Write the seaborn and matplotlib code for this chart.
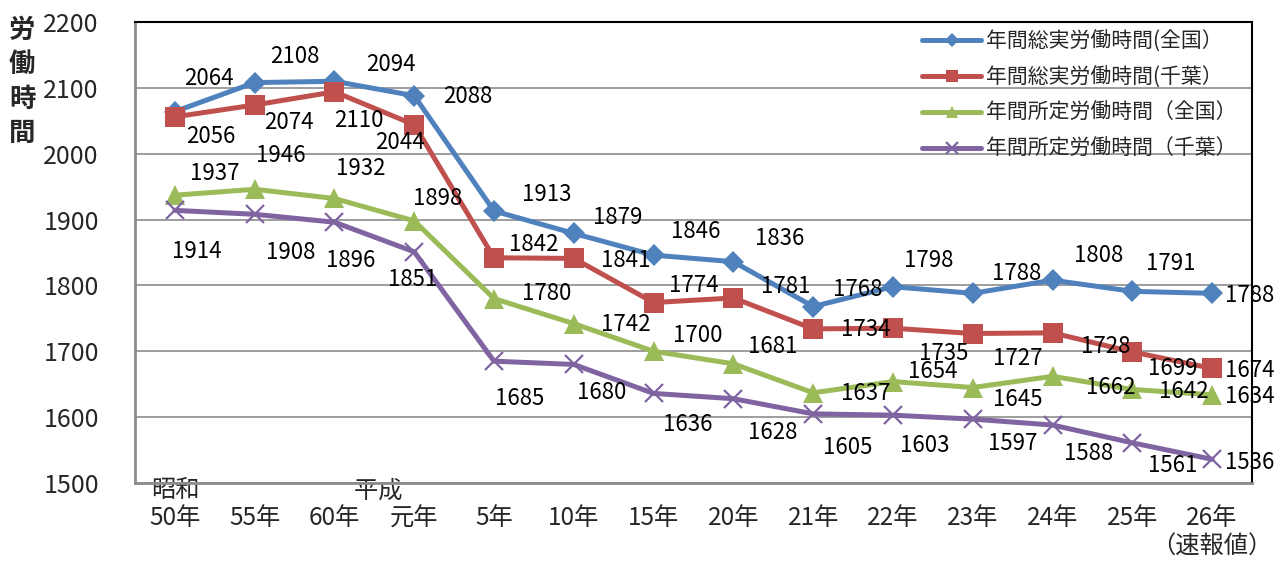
import numpy as np
import pandas as pd
import matplotlib
matplotlib.use("Agg")
import matplotlib.pyplot as plt
import seaborn as sns

# ---- data ----
categories = ["昭和\n50年", "\n55年", "\n60年", "平成\u3000\u3000\u3000\n元年", "\n5年", "\n10年", "\n15年",
              "\n20年", "\n21年", "\n22年", "\n23年", "\n24年", "\n25年", "\n26年\n（速報値）"]
series_names = ["年間総実労働時間(全国）", "年間総実労働時間(千葉）",
                "年間所定労働時間（全国）", "年間所定労働時間（千葉）"]
total_national = [2064, 2108, 2110, 2088, 1913, 1879, 1846, 1836, 1768, 1798, 1788, 1808, 1791, 1788]
total_chiba = [2056, 2074, 2094, 2044, 1842, 1841, 1774, 1781, 1734, 1735, 1727, 1728, 1699, 1674]
sched_national = [1937, 1946, 1932, 1898, 1780, 1742, 1700, 1681, 1637, 1654, 1645, 1662, 1642, 1634]
sched_chiba = [1914, 1908, 1896, 1851, 1685, 1680, 1636, 1628, 1605, 1603, 1597, 1588, 1561, 1536]
y_ticks = [1500, 1600, 1700, 1800, 1900, 2000, 2100, 2200]

# ---- label offsets (pixels: right, down) ----
off_total_national = [(34, -33), (40, -26), (24, 39), (53, 1), (53, -17), (44, -16), (42, -24),
                      (46, -23), (45, -17), (36, -26), (44, -20), (46, -25), (38, -28), (38, 2)]
off_total_chiba = [(36, 20), (34, 18), (56, -27), (-14, 18), (40, -13), (52, 2), (40, -17),
                   (52, -11), (53, 1), (51, 25), (45, 25), (53, 14), (40, 17), (38, 2)]
off_sched_national = [(40, -22), (26, -34), (26, -30), (23, -22), (53, -5), (52, 1), (44, -16),
                      (39, -17), (53, 1), (40, -10), (45, 12), (58, 11), (51, 2), (38, 2)]
off_sched_chiba = [(22, 41), (36, 38), (16, 38), (-2, 28), (26, 37), (28, 28), (34, 31),
                   (39, 34), (35, 34), (32, 30), (40, 24), (36, 28), (40, 23), (38, 3)]

sns.set_theme(style="white")
plt.rcParams["font.family"] = ["Noto Sans CJK JP", "DejaVu Sans"]

fig = plt.figure(figsize=(12.88, 5.61), dpi=100)
ax = fig.add_axes([135 / 1288, 1 - 483 / 561, 1117 / 1288, 461 / 561])

x = np.arange(len(categories))
all_values = [total_national, total_chiba, sched_national, sched_chiba]
all_offsets = [off_total_national, off_total_chiba, off_sched_national, off_sched_chiba]
colors = ["#4F81BD", "#C0504D", "#9BBB59", "#8064A2"]
markers = ["D", "s", "^", "x"]
msizes = [11, 14, 14, 13]

for name, vals, col, mk, ms in zip(series_names, all_values, colors, markers, msizes):
    df = pd.DataFrame({"x": x, "y": vals})
    kw = dict(marker=mk, markersize=ms, color=col, linewidth=3.6, label=name)
    if mk == "x":
        kw.update(markeredgewidth=1.6, markeredgecolor=col)
    else:
        kw.update(markeredgewidth=0)
    sns.lineplot(data=df, x="x", y="y", ax=ax, **kw)

for vals, offs in zip(all_values, all_offsets):
    for i, (v, (dx, dy)) in enumerate(zip(vals, offs)):
        ax.annotate(f"{v}", xy=(i, v), xytext=(dx, -dy), textcoords="offset pixels",
                    ha="center", va="center", fontsize=16, color="black",
                    annotation_clip=False, zorder=5)

ax.set_xlim(-0.5, len(categories) - 0.5)
ax.set_ylim(1500, 2200)
ax.set_xticks(x)
ax.set_xticklabels(categories, fontsize=17.5, linespacing=1.1)
ax.set_yticks(y_ticks)
ax.set_yticklabels([str(t) for t in y_ticks], fontsize=18)
ax.tick_params(axis="x", length=0, pad=-4)
ax.tick_params(axis="y", length=0, pad=26)
ax.set_xlabel("")
ax.set_ylabel("")
ax.yaxis.grid(True, color="#8C8C8C", linewidth=1.2)
ax.set_axisbelow(True)
for s in ["left", "bottom"]:
    ax.spines[s].set_color("#8C8C8C")
    ax.spines[s].set_linewidth(2)
for s in ["top", "right"]:
    ax.spines[s].set_color("black")
    ax.spines[s].set_linewidth(1.5)
    ax.spines[s].set_visible(True)

leg = ax.legend(loc="upper left", bbox_to_anchor=(0.705, 0.982), frameon=False,
                fontsize=15, handlelength=2.8, handletextpad=0.25, labelspacing=0.66,
                borderpad=0, borderaxespad=0, markerscale=0.65)
for h in leg.legend_handles:
    h.set_linewidth(3.6)

fig.text(22 / 1288, 1 - 82 / 561, "労\n働\n時\n間", fontsize=19, fontweight="bold",
         ha="center", va="center", linespacing=1.36)

fig.savefig("out.png", dpi=100)
